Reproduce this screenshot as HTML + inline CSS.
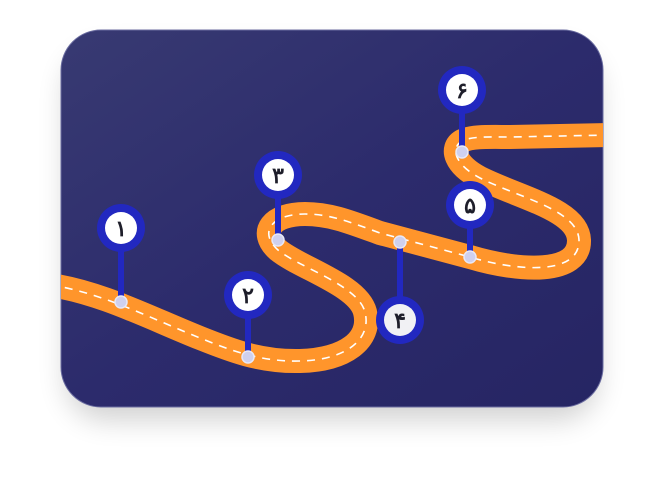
<!DOCTYPE html>
<html><head><meta charset="utf-8"><style>
html,body{margin:0;padding:0;background:#fff;}
body{width:663px;height:498px;overflow:hidden;}
</style></head><body>
<svg width="663" height="498" viewBox="0 0 663 498" xmlns="http://www.w3.org/2000/svg">
<defs>
<linearGradient id="bg" x1="0" y1="0" x2="1" y2="1">
<stop offset="0" stop-color="#383a72"/>
<stop offset="0.5" stop-color="#2c2b6c"/>
<stop offset="1" stop-color="#262563"/>
</linearGradient>
<filter id="sh" x="-20%" y="-20%" width="140%" height="150%">
<feGaussianBlur stdDeviation="14"/>
</filter>
<clipPath id="cp"><rect x="61" y="30" width="542" height="377" rx="40"/></clipPath>
</defs>
<rect x="66" y="50" width="532" height="370" rx="40" fill="#000" opacity="0.18" filter="url(#sh)"/>
<rect x="61" y="30" width="542" height="377" rx="40" fill="url(#bg)" stroke="#6a6ca0" stroke-width="1"/>
<g clip-path="url(#cp)">
<path id="road" d="M50,285 C100,292 150,318 200,338 C230,350 260,362 300,361 C345,360 372,340 365,312 C358,285 300,268 278,250 C258,232 272,214 305,214 C330,214 350,222 380,233 L470,257 C520,272 580,275 579,240 C578,210 520,198 480,178 C455,165 450,148 462,141 C472,136 490,137 510,137 L610,135" fill="none" stroke="#ff952b" stroke-width="24" stroke-linecap="butt"/>
<path d="M50,285 C100,292 150,318 200,338 C230,350 260,362 300,361 C345,360 372,340 365,312 C358,285 300,268 278,250 C258,232 272,214 305,214 C330,214 350,222 380,233 L470,257 C520,272 580,275 579,240 C578,210 520,198 480,178 C455,165 450,148 462,141 C472,136 490,137 510,137 L610,135" fill="none" stroke="#fff" stroke-width="1.6" stroke-dasharray="8 7"/>
</g>
<g fill="#2228c0" stroke="none">
<rect x="118" y="230" width="6" height="72"/>
<rect x="245" y="297" width="6" height="60"/>
<rect x="275" y="177" width="6" height="63"/>
<rect x="397" y="242" width="6" height="78"/>
<rect x="467" y="207" width="6" height="50"/>
<rect x="459" y="92" width="6" height="60"/>
<circle cx="121" cy="228" r="24"/>
<circle cx="248" cy="295" r="24"/>
<circle cx="278" cy="175" r="24"/>
<circle cx="400" cy="320" r="24"/>
<circle cx="470" cy="205" r="24"/>
<circle cx="462" cy="90" r="24"/>
</g>
<g fill="#ffffff">
<circle cx="121" cy="228" r="16"/>
<circle cx="248" cy="295" r="16"/>
<circle cx="278" cy="175" r="16"/>
<circle cx="400" cy="320" r="16" fill="#f1f1f4"/>
<circle cx="470" cy="205" r="16"/>
<circle cx="462" cy="90" r="16"/>
</g>
<g fill="#cfd0ee" stroke="#e8e8f6" stroke-width="1.5">
<circle cx="121" cy="302" r="6"/>
<circle cx="248" cy="357" r="6"/>
<circle cx="278" cy="240" r="6"/>
<circle cx="400" cy="242" r="6"/>
<circle cx="470" cy="257" r="6"/>
<circle cx="462" cy="152" r="6"/>
</g>
<g font-family="'Liberation Sans','Noto Sans CJK SC',sans-serif" font-weight="bold" font-size="22" fill="#1e1e2a" text-anchor="middle">
<text x="121" y="236">۱</text>
<text x="248" y="303">۲</text>
<text x="278" y="183">۳</text>
<text x="400" y="328">۴</text>
<text x="470" y="213">۵</text>
<text x="462" y="98">۶</text>
</g>
</svg>
</body></html>
